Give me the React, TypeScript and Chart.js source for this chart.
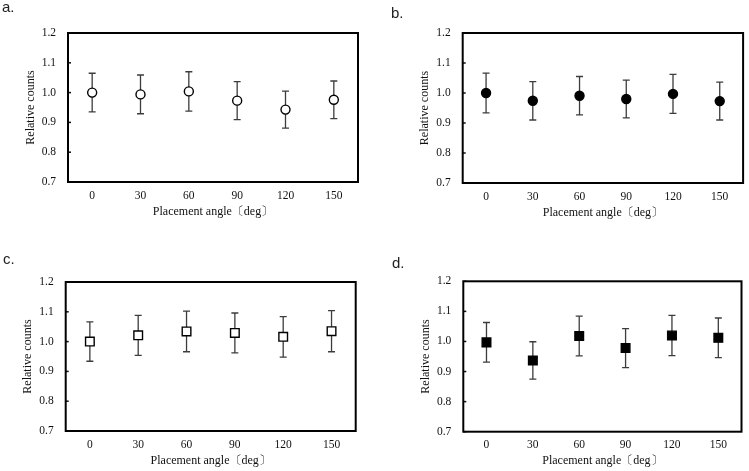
import React, { useEffect, useRef } from 'react';
import { Chart, registerables } from 'chart.js';

Chart.register(...registerables);

// Placement angles (deg) shared by every panel
const angles = ['0', '30', '60', '90', '120', '150'];
const yTickValues = [0.7, 0.8, 0.9, 1.0, 1.1, 1.2];

// a. relative counts and their standard deviations
const countsA = [1.0, 0.994, 1.004, 0.973, 0.943, 0.976];
const errorsA = [0.065, 0.065, 0.066, 0.064, 0.062, 0.063];

// b.
const countsB = [1.0, 0.974, 0.991, 0.98, 0.997, 0.973];
const errorsB = [0.066, 0.064, 0.064, 0.063, 0.065, 0.063];

// c.
const countsC = [1.0, 1.021, 1.034, 1.029, 1.016, 1.035];
const errorsC = [0.066, 0.067, 0.068, 0.067, 0.068, 0.069];

// d.
const countsD = [0.997, 0.937, 1.018, 0.978, 1.02, 1.012];
const errorsD = [0.066, 0.062, 0.066, 0.065, 0.067, 0.066];

const TEXT = '#111';
const SERIF = "'Liberation Serif', 'Times New Roman', serif";
const Y_AXIS_W = 44.7;
const X_AXIS_H = 36.7;

type PanelProps = {
  tag: string;
  tagX: number;
  tagY: number;
  values: number[];
  errors: number[];
  style: 'circle' | 'rect';
  filled: boolean;
  left: number;
  top: number;
  width: number;
  height: number;
  area: { l: number; t: number; r: number; b: number };
};

function Panel(p: PanelProps) {
  const ref = useRef<HTMLCanvasElement | null>(null);

  useEffect(() => {
    const canvas = ref.current;
    if (!canvas) return;

    const decor = {
      id: 'panelDecor',
      beforeDatasetsDraw(chart: any) {
        const { ctx, scales } = chart;
        const x = scales.x;
        const y = scales.y;
        const cap = 3.5;
        ctx.save();
        ctx.strokeStyle = '#3c3c3c';
        ctx.lineWidth = 1.3;
        p.values.forEach((v, i) => {
          const px = x.getPixelForValue(i);
          const hi = y.getPixelForValue(v + p.errors[i]);
          const lo = y.getPixelForValue(v - p.errors[i]);
          ctx.beginPath();
          ctx.moveTo(px, hi);
          ctx.lineTo(px, lo);
          ctx.moveTo(px - cap, hi);
          ctx.lineTo(px + cap, hi);
          ctx.moveTo(px - cap, lo);
          ctx.lineTo(px + cap, lo);
          ctx.stroke();
        });
        ctx.restore();
      },
      afterDraw(chart: any) {
        const { ctx, chartArea, scales } = chart;
        const { left, top, right, bottom } = chartArea;
        ctx.save();
        // inner tick marks on the value axis
        ctx.strokeStyle = '#111';
        ctx.lineWidth = 1.5;
        yTickValues.forEach((v) => {
          const py = scales.y.getPixelForValue(v);
          ctx.beginPath();
          ctx.moveTo(left, py);
          ctx.lineTo(left + 3, py);
          ctx.stroke();
        });
        // frame
        ctx.lineWidth = 2;
        ctx.strokeStyle = '#000';
        ctx.strokeRect(left, top, right - left, bottom - top);
        // panel tag
        ctx.fillStyle = '#222';
        ctx.font = "15px 'Liberation Sans', Arial, sans-serif";
        ctx.textAlign = 'left';
        ctx.textBaseline = 'alphabetic';
        ctx.fillText(p.tag, p.tagX, p.tagY);
        ctx.restore();
      },
    };

    const tickFont = { family: SERIF, size: 11.5, lineHeight: 1.2 };
    const titleFont = { family: SERIF, size: 12, lineHeight: 1.2 };

    const chart = new Chart(canvas, {
      type: 'line',
      data: {
        labels: angles,
        datasets: [
          {
            data: p.values,
            showLine: false,
            pointStyle: p.style,
            pointRadius: p.style === 'rect' ? 6.1 : 4.5,
            pointBorderWidth: 1.4,
            pointBorderColor: '#000',
            pointBackgroundColor: p.filled ? '#000' : '#fff',
          },
        ],
      },
      options: {
        animation: false,
        responsive: false,
        devicePixelRatio: 1,
        layout: {
          padding: {
            left: p.area.l - Y_AXIS_W,
            top: p.area.t,
            right: p.width - p.area.r,
            bottom: p.height - p.area.b - X_AXIS_H,
          },
        },
        plugins: {
          legend: { display: false },
          tooltip: { enabled: false },
        },
        scales: {
          x: {
            type: 'category',
            offset: true,
            grid: { display: false, drawTicks: false },
            border: { display: false },
            ticks: { padding: 6.6, color: TEXT, font: tickFont, maxRotation: 0, autoSkip: false },
            title: {
              display: true,
              text: 'Placement angle〔deg〕',
              padding: 0,
              color: TEXT,
              font: titleFont,
            },
            afterFit(s: any) {
              s.height = X_AXIS_H;
            },
          },
          y: {
            min: 0.7,
            max: 1.2,
            grid: { display: false, drawTicks: false },
            border: { display: false },
            ticks: {
              padding: 12,
              color: TEXT,
              font: tickFont,
              callback: (v: any) => Number(v).toFixed(1),
            },
            afterBuildTicks(s: any) {
              s.ticks = yTickValues.map((v) => ({ value: v }));
            },
            title: {
              display: true,
              text: 'Relative counts',
              padding: 0,
              color: TEXT,
              font: titleFont,
            },
            afterFit(s: any) {
              s.width = Y_AXIS_W;
            },
          },
        },
      },
      plugins: [decor],
    } as any);

    return () => chart.destroy();
  }, []);

  return (
    <canvas
      ref={ref}
      width={p.width}
      height={p.height}
      style={{
        position: 'absolute',
        left: p.left,
        top: p.top,
        width: p.width,
        height: p.height,
        display: 'block',
      }}
    />
  );
}

export default function App() {
  return (
    <div
      style={{
        position: 'absolute',
        left: 0,
        top: 0,
        width: 749,
        height: 471,
        background: '#fff',
        overflow: 'hidden',
      }}
    >
      <Panel
        tag="a."
        tagX={2}
        tagY={12}
        values={countsA}
        errors={errorsA}
        style="circle"
        filled={false}
        left={0}
        top={0}
        width={374}
        height={235}
        area={{ l: 68, t: 33, r: 358, b: 182 }}
      />
      <Panel
        tag="b."
        tagX={17}
        tagY={18}
        values={countsB}
        errors={errorsB}
        style="circle"
        filled={true}
        left={374}
        top={0}
        width={375}
        height={235}
        area={{ l: 88.7, t: 33, r: 371, b: 183 }}
      />
      <Panel
        tag="c."
        tagX={3}
        tagY={29}
        values={countsC}
        errors={errorsC}
        style="rect"
        filled={false}
        left={0}
        top={235}
        width={374}
        height={236}
        area={{ l: 65.7, t: 47, r: 355.7, b: 196 }}
      />
      <Panel
        tag="d."
        tagX={18}
        tagY={33}
        values={countsD}
        errors={errorsD}
        style="rect"
        filled={true}
        left={374}
        top={235}
        width={375}
        height={236}
        area={{ l: 89.3, t: 46.3, r: 371.7, b: 196.7 }}
      />
    </div>
  );
}
